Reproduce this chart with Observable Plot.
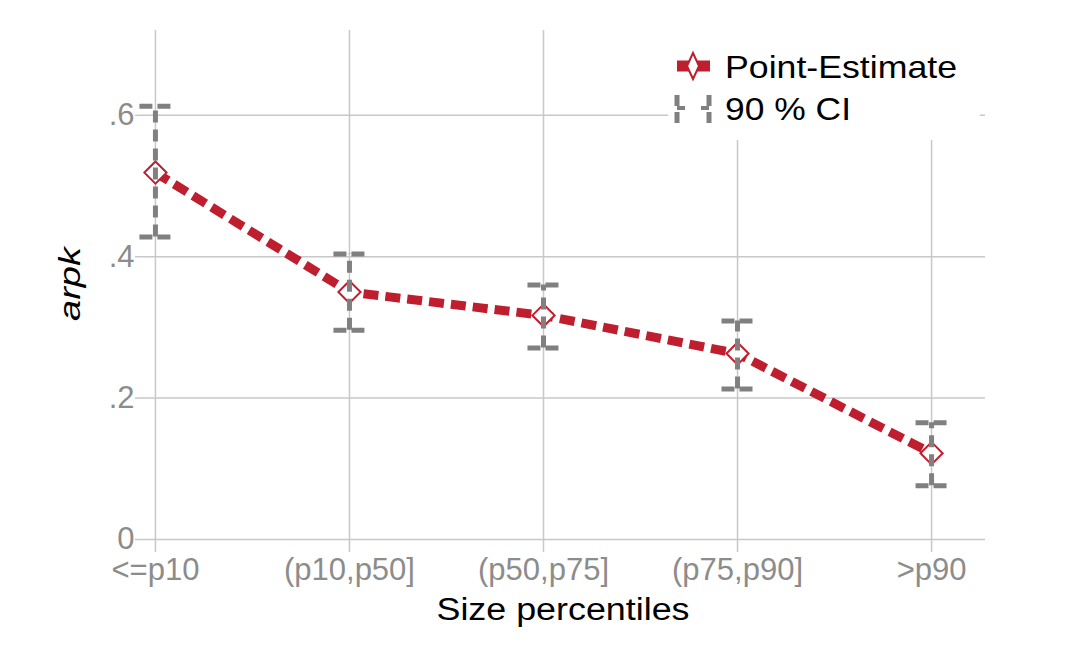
<!DOCTYPE html>
<html>
<head>
<meta charset="utf-8">
<script src="https://cdn.jsdelivr.net/npm/d3@7"></script>
<script src="https://cdn.jsdelivr.net/npm/@observablehq/plot@0.6"></script>
<style>
  html, body { margin: 0; padding: 0; background: #fff; }
  #wrap { position: relative; width: 1085px; height: 654px; font-family: "Liberation Sans", Arial, sans-serif; }
  #legend { position: absolute; left: 668px; top: 28px; }
</style>
</head>
<body>
<div id="wrap"></div>
<script>
const categories = ["<=p10", "(p10,p50]", "(p50,p75]", "(p75,p90]", ">p90"];
const estimate = [0.519, 0.350, 0.317, 0.263, 0.122];
const ciLow   = [0.428, 0.296, 0.271, 0.213, 0.076];
const ciHigh  = [0.613, 0.404, 0.360, 0.309, 0.165];
const yTicks = [0, 0.2, 0.4, 0.6];
const yTickLabels = ["0", ".2", ".4", ".6"];
const seriesNames = ["Point-Estimate", "90 % CI"];

const RED = "#be1e2d", GREY = "#808080", GRID = "#c8c8c8", TICK = "#8c8c8c";
const idx = categories.map((_, i) => i);
const rows = idx.map(i => ({i, cat: categories[i], est: estimate[i], lo: ciLow[i], hi: ciHigh[i]}));
const capHalf = 0.08;

const chart = Plot.plot({
  width: 1085,
  height: 654,
  marginLeft: 140,
  marginRight: 100,
  marginTop: 30,
  marginBottom: 115,
  style: {fontFamily: "Liberation Sans, Arial, sans-serif", background: "#fff", overflow: "visible"},
  x: {domain: [-0.077, 4.278], axis: null},
  y: {domain: [0, 0.72], axis: null},
  marks: [
    Plot.ruleY(yTicks, {stroke: GRID, strokeWidth: 1.5}),
    Plot.ruleX(idx, {stroke: GRID, strokeWidth: 1.5}),
    Plot.axisY(yTicks, {tickFormat: d => yTickLabels[yTicks.indexOf(d)], tickSize: 5, stroke: GRID, strokeWidth: 1.5, fill: TICK, fontSize: 31, tickPadding: 1, label: null}),
    Plot.axisX(idx, {tickFormat: d => categories[d], tickSize: 13, stroke: GRID, strokeWidth: 1.5, fill: TICK, fontSize: 31, tickPadding: 5, label: null}),
    Plot.line(rows, {x: "i", y: "est", stroke: RED, strokeWidth: 9, strokeDasharray: "15,7", strokeLinecap: "butt"}),
    Plot.dot(rows, {x: "i", y: "est", symbol: "diamond2", r: 10, stroke: RED, strokeWidth: 2, fill: "#fff"}),
    Plot.ruleX(rows, {x: "i", y1: "lo", y2: "hi", stroke: GREY, strokeWidth: 5, strokeDasharray: "12,7"}),
    Plot.ruleY(rows, {y: "hi", x1: d => d.i - capHalf, x2: d => d.i + capHalf, stroke: GREY, strokeWidth: 5, strokeDasharray: "13,5"}),
    Plot.ruleY(rows, {y: "lo", x1: d => d.i - capHalf, x2: d => d.i + capHalf, stroke: GREY, strokeWidth: 5, strokeDasharray: "13,5"}),
    Plot.text(["Size percentiles"], {frameAnchor: "bottom", dy: 80, fontSize: 31, fill: "#000", className: "xtitle"}),
    Plot.text(["arpk"], {frameAnchor: "left", dx: -70, dy: 36, rotate: -90, fontSize: 30, fontStyle: "italic", fill: "#000", className: "ytitle"})
  ]
});

const wrap = document.getElementById("wrap");
wrap.appendChild(chart);

// stretch titles horizontally to match reference widths
d3.select(chart).selectAll(".xtitle text").attr("textLength", 253).attr("lengthAdjust", "spacingAndGlyphs");
d3.select(chart).selectAll(".ytitle text").attr("textLength", 74).attr("lengthAdjust", "spacingAndGlyphs");

const legend = document.createElement("div");
legend.id = "legend";
legend.innerHTML = `
<svg width="312" height="112" style="display:block;font-family:'Liberation Sans',Arial,sans-serif">
  <rect x="0" y="0" width="312" height="112" fill="#fff"/>
  <line x1="9" y1="38" x2="42" y2="38" stroke="${RED}" stroke-width="11"/>
  <path d="M25 25 L31 38 L25 51 L19 38 Z" fill="#fff" stroke="${RED}" stroke-width="2"/>
  <text x="57" y="50" font-size="32" fill="#000" textLength="232" lengthAdjust="spacingAndGlyphs">${seriesNames[0]}</text>
  <line x1="9" y1="67" x2="9" y2="97" stroke="${GREY}" stroke-width="5" stroke-dasharray="11,6"/>
  <line x1="9" y1="80" x2="41" y2="80" stroke="${GREY}" stroke-width="4" stroke-dasharray="8,16"/>
  <line x1="41" y1="67" x2="41" y2="97" stroke="${GREY}" stroke-width="5" stroke-dasharray="11,6"/>
  <text x="57" y="92" font-size="32" fill="#000" textLength="126" lengthAdjust="spacingAndGlyphs">${seriesNames[1]}</text>
</svg>`;
wrap.appendChild(legend);
</script>
</body>
</html>
